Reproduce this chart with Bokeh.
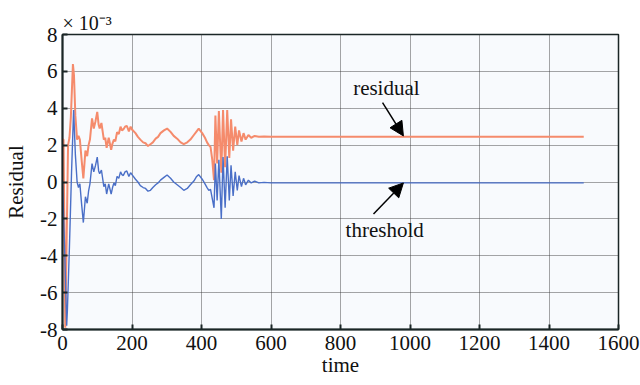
from bokeh.plotting import figure
from bokeh.models import Range1d, FixedTicker, Label, Arrow, NormalHead
from bokeh.embed import file_html
from bokeh.resources import INLINE

# ---- data (values in units of 1e-3) ----
t_threshold = [0, 6, 12, 14, 20, 26, 32, 37, 42, 46, 50, 55, 60, 66, 71, 75, 79, 85, 90, 95,
               100, 104, 107, 112, 119, 123, 127, 133, 140, 144, 148, 152, 157, 162, 167, 171,
               175, 180, 185, 191, 196, 200, 210, 217, 224, 232, 239, 246, 253, 260, 268, 275,
               282, 292, 301, 311, 320, 330, 340, 349, 359, 368, 378, 386, 392, 402, 410, 416,
               421, 426, 431, 436, 440, 445, 450, 457, 462, 468, 474, 480, 485, 491, 497, 503,
               508, 515, 521, 527, 535, 543, 553, 565, 580, 600, 1500]
threshold = [0.0, -3.5, -7.8, -7.0, -3.5, 0.5, 3.9, 1.5, 0.0, -0.3, -0.1, -1.2, -2.2, -0.8, -1.15,
             -0.5, -0.1, 1.0, 0.55, 0.9, 1.35, 0.6, 0.45, 0.65, -0.25, -0.1, -0.65, -0.1, -0.65,
             -0.3, -0.05, -0.2, 0.3, 0.2, 0.55, 0.4, 0.35, 0.55, 0.6, 0.3, 0.5, 0.4, 0.15, 0.0,
             -0.2, -0.3, -0.35, -0.5, -0.45, -0.3, -0.15, -0.05, 0.1, 0.25, 0.38, 0.2, 0.0,
             -0.15, -0.3, -0.45, -0.35, -0.15, 0.05, 0.3, 0.4, 0.15, -0.1, -0.3, -0.45, -0.4,
             -0.9, -1.4, 1.0, -1.0, 1.2, -2.0, 1.35, -1.4, 1.4, -1.0, 0.9, -0.75, 0.55, -0.45,
             0.35, -0.25, 0.2, -0.15, 0.1, -0.05, 0.05, -0.05, -0.02, -0.05, -0.05]

t_residual = [0, 3, 8, 12, 16, 20, 24, 30, 33, 37, 42, 46, 50, 55, 60, 66, 71, 75, 79, 85, 90, 95,
              100, 104, 107, 112, 119, 123, 127, 133, 140, 144, 148, 152, 157, 162, 167, 171,
              175, 180, 185, 191, 196, 200, 210, 217, 224, 232, 239, 246, 253, 260, 268, 275,
              282, 292, 301, 311, 320, 330, 340, 349, 359, 368, 378, 386, 392, 402, 410, 416,
              421, 426, 431, 436, 440, 445, 450, 457, 462, 468, 474, 480, 485, 491, 497, 503,
              508, 515, 521, 527, 535, 543, 553, 565, 580, 600, 1500]
residual = [2.3, 2.3, -7.9, -3.0, 2.0, 2.4, 3.5, 6.4, 5.8, 3.6, 2.3, 2.5, 2.3, 1.2, 0.2, 1.7, 1.4,
            2.0, 2.3, 3.45, 2.9, 3.3, 3.8, 3.1, 2.9, 3.2, 2.3, 2.4, 1.85, 2.4, 1.75, 2.1, 2.3,
            2.2, 2.7, 2.6, 3.0, 2.8, 2.85, 3.0, 3.05, 2.75, 3.0, 2.85, 2.65, 2.45, 2.3, 2.15,
            2.1, 1.95, 2.05, 2.15, 2.35, 2.45, 2.65, 2.8, 2.9, 2.72, 2.5, 2.35, 2.15, 2.05,
            2.15, 2.3, 2.55, 2.75, 2.9, 2.65, 2.4, 2.15, 2.0, 1.9, 1.2, 0.1, 3.6, 1.0, 3.85,
            0.5, 3.9, 0.8, 3.9, 1.3, 3.4, 1.7, 3.0, 2.0, 2.8, 2.2, 2.65, 2.3, 2.55, 2.4, 2.5,
            2.45, 2.47, 2.45, 2.45]

x_ticks = [0, 200, 400, 600, 800, 1000, 1200, 1400, 1600]
y_ticks = [-8, -6, -4, -2, 0, 2, 4, 6, 8]
y_tick_labels = ["-8", "-6", "-4", "-2", "0", "2", "4", "6", "8"]

FONT = "Liberation Serif"
DARK = "#1b2626"
TXT = "#111111"

p = figure(width=640, height=385, output_backend="svg", toolbar_location=None,
           x_range=Range1d(0, 1600), y_range=Range1d(-8, 8),
           min_border_left=62, min_border_right=22, min_border_top=34, min_border_bottom=56,
           title="× 10⁻³")
p.title.text_font = FONT
p.title.text_font_size = "20px"
p.title.text_font_style = "normal"
p.title.text_color = TXT
p.title.align = "left"
p.title.standoff = 2
p.title.offset = 0

p.background_fill_color = "#f8fafd"
p.border_fill_color = "white"
p.outline_line_color = DARK
p.outline_line_width = 1.5

for ax in (p.xaxis[0], p.yaxis[0]):
    ax.major_label_text_font = FONT
    ax.major_label_text_font_size = "21px"
    ax.major_label_text_color = TXT
    ax.axis_label_text_font = FONT
    ax.axis_label_text_font_size = "21px"
    ax.axis_label_text_font_style = "normal"
    ax.axis_label_text_color = TXT
    ax.major_tick_in = 5
    ax.major_tick_out = 0
    ax.minor_tick_in = 0
    ax.minor_tick_out = 0
    ax.axis_line_color = DARK
    ax.axis_line_width = 2
    ax.major_tick_line_color = DARK
    ax.major_tick_line_width = 2
p.xaxis[0].ticker = FixedTicker(ticks=x_ticks)
p.yaxis[0].ticker = FixedTicker(ticks=y_ticks)
p.yaxis[0].major_label_overrides = {t: s for t, s in zip(y_ticks, y_tick_labels)}
p.xaxis[0].major_label_standoff = 6
p.yaxis[0].major_label_standoff = 5
p.xaxis[0].axis_label = "time"
p.xaxis[0].axis_label_standoff = 0
p.yaxis[0].axis_label = "Residual"
p.yaxis[0].axis_label_standoff = 9

p.xgrid.ticker = FixedTicker(ticks=x_ticks)
p.ygrid.ticker = FixedTicker(ticks=y_ticks)
for g in (p.xgrid[0], p.ygrid[0]):
    g.grid_line_color = "#3a3a3a"
    g.grid_line_dash = "1 1"
    g.grid_line_width = 1
    g.grid_line_alpha = 0.9

p.line(t_residual, residual, line_color="#f58b6c", line_width=2)
p.line(t_threshold, threshold, line_color="#4a6fc7", line_width=1.4)

# annotations
p.add_layout(Label(x=932, y=5.1, text="residual", text_font=FONT, text_font_size="21px",
                   text_align="center", text_baseline="middle", text_color=TXT))
p.add_layout(Label(x=927, y=-2.6, text="threshold", text_font=FONT, text_font_size="21px",
                   text_align="center", text_baseline="middle", text_color=TXT))
p.add_layout(Arrow(x_start=921, y_start=4.3, x_end=981, y_end=2.5, line_width=1.5,
                   line_color="black",
                   end=NormalHead(size=14, fill_color="black", line_color="black")))
p.add_layout(Arrow(x_start=895, y_start=-1.74, x_end=981, y_end=-0.05, line_width=1.5,
                   line_color="black",
                   end=NormalHead(size=14, fill_color="black", line_color="black")))

open("out.html", "w").write(file_html(p, INLINE))
